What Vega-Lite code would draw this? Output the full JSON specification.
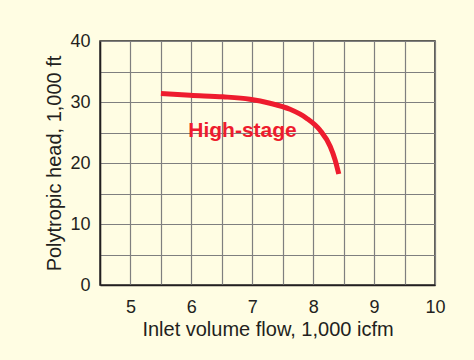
{
  "$schema": "https://vega.github.io/schema/vega-lite/v6.json",
  "width": 335,
  "height": 244,
  "autosize": {"type": "none"},
  "padding": {"left": 100, "top": 41, "right": 39, "bottom": 75},
  "background": "#FFFDE3",
  "config": {
    "font": "Liberation Sans",
    "view": {"stroke": "#2B2A29", "strokeWidth": 1.5, "fill": "#FFFDE3"}
  },
  "datasets": {
    "curve": [
      {"flow": 5.5, "head": 31.4},
      {"flow": 5.98, "head": 31.1},
      {"flow": 6.52, "head": 30.85},
      {"flow": 6.96, "head": 30.45},
      {"flow": 7.29, "head": 29.8},
      {"flow": 7.62, "head": 28.8},
      {"flow": 7.89, "head": 27.35},
      {"flow": 8.11, "head": 25.4},
      {"flow": 8.28, "head": 22.7},
      {"flow": 8.36, "head": 20.5},
      {"flow": 8.42, "head": 18.2}
    ],
    "label": [
      {"flow": 6.84, "head": 25.3, "name": "High-stage"}
    ]
  },
  "layer": [
    {
      "data": {"name": "curve"},
      "mark": {"type": "line", "color": "#EE1C2E", "strokeWidth": 5, "interpolate": "monotone", "strokeCap": "butt"},
      "encoding": {
        "x": {
          "field": "flow", "type": "quantitative",
          "scale": {"domain": [4.5, 10], "nice": false, "zero": false},
          "axis": {
            "title": "Inlet volume flow, 1,000 icfm",
            "values": [4.5, 5, 5.5, 6, 6.5, 7, 7.5, 8, 8.5, 9, 9.5, 10],
            "tickCount": 30,
            "labelExpr": "datum.value % 1 === 0 ? format(datum.value, 'd') : ''",
            "labelOverlap": false,
            "labelFlush": false,
            "grid": true, "gridColor": "#7F7F7F", "gridWidth": 1.2,
            "ticks": false,
            "domainColor": "#231F20", "domainWidth": 1.5,
            "labelFontSize": 18, "labelColor": "#231F20", "labelPadding": 13,
            "titleFontSize": 20, "titleFontWeight": "normal", "titleColor": "#231F20", "titlePadding": 3
          }
        },
        "y": {
          "field": "head", "type": "quantitative",
          "scale": {"domain": [0, 40], "nice": false},
          "axis": {
            "title": "Polytropic head, 1,000 ft",
            "values": [0, 5, 10, 15, 20, 25, 30, 35, 40],
            "tickCount": 30,
            "labelExpr": "datum.value % 10 === 0 ? format(datum.value, 'd') : ''",
            "labelOverlap": false,
            "labelFlush": false,
            "grid": true, "gridColor": "#7F7F7F", "gridWidth": 1.2,
            "ticks": false,
            "domainColor": "#231F20", "domainWidth": 1.5,
            "labelFontSize": 18, "labelColor": "#231F20", "labelPadding": 10,
            "titleFontSize": 20, "titleFontWeight": "normal", "titleColor": "#231F20", "titlePadding": 5
          }
        }
      }
    },
    {
      "data": {"name": "label"},
      "mark": {"type": "text", "fontWeight": "bold", "fontSize": 21, "color": "#EE1C2E", "baseline": "middle", "align": "center"},
      "encoding": {
        "x": {"field": "flow", "type": "quantitative"},
        "y": {"field": "head", "type": "quantitative"},
        "text": {"field": "name"}
      }
    }
  ]
}
